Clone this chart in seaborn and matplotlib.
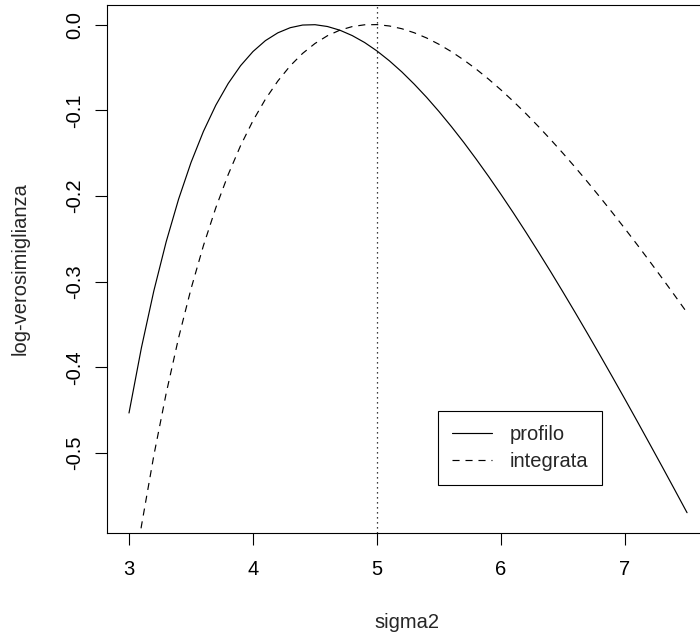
import numpy as np
import pandas as pd
import matplotlib
matplotlib.use("Agg")
import matplotlib.pyplot as plt
import seaborn as sns

# sigma2 grid and the two curves
sigma2 = [3.0, 3.1, 3.2, 3.3, 3.4, 3.5, 3.6, 3.7, 3.8, 3.9,
          4.0, 4.1, 4.2, 4.3, 4.4, 4.5, 4.6, 4.7, 4.8, 4.9,
          5.0, 5.1, 5.2, 5.3, 5.4, 5.5, 5.6, 5.7, 5.8, 5.9,
          6.0, 6.1, 6.2, 6.3, 6.4, 6.5, 6.6, 6.7, 6.8, 6.9,
          7.0, 7.1, 7.2, 7.3, 7.4, 7.5]

profilo = [-0.4534, -0.3773, -0.3110, -0.2534, -0.2037, -0.1610, -0.1247, -0.0941, -0.0687, -0.0479,
           -0.0314, -0.0187, -0.0096, -0.0036, -0.0005, -0.0001, -0.0022, -0.0065, -0.0128, -0.0209,
           -0.0308, -0.0423, -0.0552, -0.0695, -0.0849, -0.1015, -0.1191, -0.1376, -0.1571, -0.1773,
           -0.1983, -0.2199, -0.2422, -0.2651, -0.2884, -0.3123, -0.3366, -0.3613, -0.3864, -0.4118,
           -0.4375, -0.4635, -0.4898, -0.5162, -0.5429, -0.5698]

integrata = [-0.6779, -0.5854, -0.5032, -0.4303, -0.3656, -0.3085, -0.2581, -0.2138, -0.1750, -0.1412,
             -0.1121, -0.0871, -0.0659, -0.0481, -0.0336, -0.0220, -0.0130, -0.0065, -0.0023, -0.0002,
             0.0000, -0.0016, -0.0048, -0.0095, -0.0156, -0.0230, -0.0316, -0.0413, -0.0520, -0.0637,
             -0.0763, -0.0897, -0.1038, -0.1187, -0.1342, -0.1503, -0.1669, -0.1841, -0.2018, -0.2199,
             -0.2384, -0.2573, -0.2766, -0.2962, -0.3161, -0.3363]

true_sigma2 = 5.0
x_ticks = [3, 4, 5, 6, 7]
y_ticks = [0.0, -0.1, -0.2, -0.3, -0.4, -0.5]
y_ticklabels = ["0.0", "-0.1", "-0.2", "-0.3", "-0.4", "-0.5"]

sns.set_theme(style="ticks")
plt.rcParams['font.family'] = ['Liberation Sans', 'DejaVu Sans']
FS = 14.5

df = pd.DataFrame({"sigma2": sigma2, "profilo": profilo, "integrata": integrata})

fig = plt.figure(figsize=(7.0, 6.34), dpi=100)
# right edge of the box falls just outside the picture, as in the reference
ax = fig.add_axes([107 / 700, 1 - 533 / 634, 602 / 700, 528 / 634])

sns.lineplot(data=df, x="sigma2", y="profilo", ax=ax, color="black",
             linewidth=0.85, label="profilo", legend=False)
sns.lineplot(data=df, x="sigma2", y="integrata", ax=ax, color="black",
             linewidth=0.85, linestyle=(0, (6, 5)), label="integrata", legend=False)
ax.axvline(true_sigma2, color="black", linewidth=0.9, linestyle=(0, (1, 3)))

ax.set_xlim(2.8226, 7.677)
ax.set_ylim(-0.5935, 0.0229)
ax.set_xticks(x_ticks)
ax.set_xticklabels([str(t) for t in x_ticks], fontsize=FS)
ax.set_yticks(y_ticks)
ax.set_yticklabels(y_ticklabels, fontsize=FS, rotation=90, va="center")
ax.tick_params(axis="both", direction="out", length=8.6, width=0.8, colors="black")
ax.tick_params(axis="x", pad=11)
ax.tick_params(axis="y", pad=8)
for sp in ax.spines.values():
    sp.set_color("black")
    sp.set_linewidth(0.8)
ax.set_xlabel("")
ax.set_ylabel("")

fig.text(407 / 700, 1 - 622 / 634, "sigma2", fontsize=FS, ha="center", va="center")
fig.text(20 / 700, 1 - 269 / 634, "log-verosimiglianza", fontsize=FS,
         ha="center", va="center", rotation=90)

lines = ax.get_lines()[:2]
leg = ax.legend(lines, ["profilo", "integrata"], loc="upper left",
                bbox_to_anchor=(438 / 700, 1 - 411 / 634), bbox_transform=fig.transFigure,
                borderaxespad=0, fontsize=FS, handlelength=2.0, handletextpad=0.85,
                borderpad=0.7, labelspacing=0.38, fancybox=False, framealpha=1)
leg.get_frame().set_edgecolor("black")
leg.get_frame().set_linewidth(0.8)

fig.savefig("out.png", dpi=100)
